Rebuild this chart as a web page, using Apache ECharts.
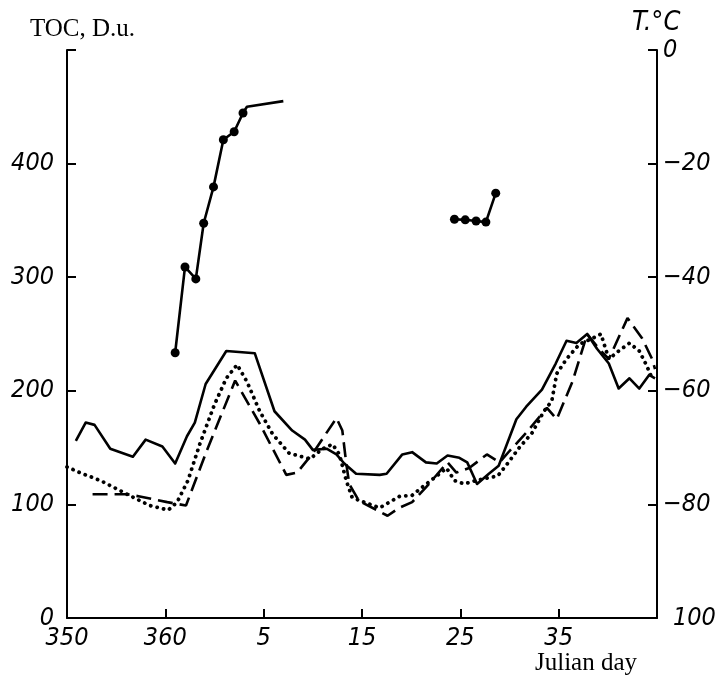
<!DOCTYPE html>
<html>
<head>
<meta charset="utf-8">
<script src="https://cdn.jsdelivr.net/npm/echarts@6/dist/echarts.min.js"></script>
<style>html,body{margin:0;padding:0;background:#fff}#c{width:721px;height:680px}</style>
</head>
<body>
<div id="c"></div>
<script>
// Continuous day index: values above 365 wrap to the next year (370 = day 5)
const xTicks = [350, 360, 370, 380, 390, 400];
const leftTicks = [0, 100, 200, 300, 400];
const rightTicks = [0, -20, -40, -60, -80, -100];

// Solid TOC curve
const solidDays = [350.9, 351.9, 352.8, 354.4, 356.7, 358.0, 359.7, 361.0, 362.2, 363.0, 364.1, 366.2, 369.1, 371.1, 372.9, 374.2, 375.0, 376.4, 377.4, 378.2, 379.4, 381.8, 382.5, 384.1, 385.1, 386.5, 387.6, 388.7, 389.9, 390.7, 391.7, 392.9, 393.9, 395.7, 396.7, 398.3, 399.7, 400.8, 401.8, 402.9, 403.9, 405.1, 406.1, 407.2, 408.2, 409.2, 409.8];
const solidToc = [156, 172, 170, 149, 142, 157, 151, 136, 160, 172, 206, 235, 233, 182, 165, 157, 148, 149, 144, 136, 127, 126, 127, 144, 146, 137, 136, 143, 141, 137, 118, 127, 134, 175, 186, 201, 224, 244, 242, 250, 237, 224, 202, 211, 202, 214, 211];

// Dotted TOC curve
const dottedDays = [350.0, 351.3, 353.4, 356.1, 358.4, 360.3, 361.2, 362.3, 363.5, 365.0, 366.2, 367.3, 368.3, 369.6, 370.9, 372.6, 374.7, 376.0, 377.0, 377.7, 378.4, 379.0, 380.5, 381.8, 382.8, 383.8, 385.1, 386.1, 387.6, 388.6, 389.4, 390.4, 391.6, 392.6, 393.8, 394.8, 396.0, 397.3, 398.5, 399.3, 399.8, 400.8, 402.1, 403.4, 404.3, 405.1, 406.1, 407.2, 408.2, 408.9, 409.5];
const dottedToc = [133, 128, 121, 109, 99, 95, 102, 121, 153, 188, 211, 223, 208, 182, 162, 145, 140, 149, 153, 144, 121, 106, 101, 97, 102, 107, 108, 115, 125, 132, 121, 118, 121, 123, 125, 136, 150, 163, 182, 191, 215, 228, 241, 246, 250, 228, 235, 242, 235, 223, 211];

// Dashed TOC curve
const dashedDays = [352.6, 356.1, 357.4, 360.2, 362.1, 364.2, 367.1, 369.6, 372.3, 373.4, 375.0, 377.4, 378.0, 378.4, 378.7, 379.7, 381.5, 382.6, 383.8, 385.1, 386.5, 388.7, 389.6, 390.9, 392.7, 394.0, 395.0, 396.7, 398.8, 399.8, 401.4, 402.9, 404.1, 405.1, 407.0, 408.5, 409.5, 409.8];
const dashedToc = [109, 109, 107, 102, 99, 147, 209, 171, 126, 128, 145, 176, 165, 136, 118, 103, 95, 90, 97, 102, 115, 137, 128, 132, 144, 137, 147, 163, 185, 175, 208, 250, 237, 228, 264, 246, 228, 219];

// Temperature (right axis) with dots
const tempDays1 = [361.0, 362.0, 363.1, 363.9, 364.9, 365.9, 367.0, 367.9];
const tempVals1 = [-53.3, -38.2, -40.3, -30.5, -24.1, -15.8, -14.4, -11.1];
const tempTailDays = [367.9, 368.3, 372.0];
const tempTailVals = [-11.1, -10.0, -9.0];
const tempDays2 = [389.4, 390.5, 391.6, 392.6, 393.6];
const tempVals2 = [-29.8, -29.9, -30.1, -30.3, -25.2];

const zip = (a, b) => a.map((v, i) => [v, b[i]]);
const numFont = '"Liberation Sans Narrow","DejaVu Sans Condensed","Liberation Sans",sans-serif';
const serif = '"Liberation Serif","Times New Roman",serif';

const chart = echarts.init(document.getElementById('c'), null, {renderer: 'canvas'});
chart.setOption({
  animation: false,
  backgroundColor: '#fff',
  grid: {left: 67, right: 64, top: 50, bottom: 62, containLabel: false, outerBoundsMode: 'none'},
  xAxis: {
    type: 'value', min: 350, max: 410, interval: 10,
    axisLine: {lineStyle: {color: '#000', width: 2}},
    axisTick: {inside: true, length: 9, lineStyle: {color: '#000', width: 2}},
    splitLine: {show: false},
    axisLabel: {
      margin: 8, color: '#000', fontSize: 25, fontStyle: 'italic', fontFamily: numFont,
      formatter: v => (xTicks.indexOf(v) < 0 ? '' : String(v > 365 ? v - 365 : v))
    }
  },
  yAxis: [{
    type: 'value', min: 0, max: 500, interval: 100, position: 'left',
    axisLine: {show: true, lineStyle: {color: '#000', width: 2}},
    axisTick: {show: true, inside: true, length: 9, lineStyle: {color: '#000', width: 2}},
    splitLine: {show: false},
    axisLabel: {
      margin: 13, color: '#000', fontSize: 25, fontStyle: 'italic', fontFamily: numFont,
      formatter: v => (leftTicks.indexOf(v) < 0 ? '' : String(v))
    }
  }, {
    type: 'value', min: -100, max: 0, interval: 20, position: 'right',
    axisLine: {show: true, lineStyle: {color: '#000', width: 2}},
    axisTick: {show: true, inside: true, length: 9, lineStyle: {color: '#000', width: 2}},
    splitLine: {show: false},
    axisLabel: {
      margin: 6, color: '#000', fontSize: 25, fontStyle: 'italic', fontFamily: numFont,
      formatter: v => (rightTicks.indexOf(v) < 0 ? '' : (v === 0 ? '0' : (v === -100 ? '{h|100}' : '\u2212' + (-v)))),
      rich: {h: {fontSize: 25, fontStyle: 'italic', fontFamily: numFont, padding: [0, 0, 0, 10]}}
    }
  }],
  graphic: [
    {type: 'text', left: 30, top: 17, style: {text: 'TOC, D.u.', font: '25px ' + serif, fill: '#000'}},
    {type: 'text', left: 632, top: 9, style: {text: 'T.\u00B0C', font: 'italic 27px ' + numFont, fill: '#000'}},
    {type: 'text', left: 535, top: 651, style: {text: 'Julian day', font: '25px ' + serif, fill: '#000'}}
  ],
  series: [
    {type: 'line', yAxisIndex: 0, data: zip(solidDays, solidToc), symbol: 'none',
     lineStyle: {color: '#000', width: 2.6, join: 'round'}},
    {type: 'line', yAxisIndex: 0, data: zip(dottedDays, dottedToc), symbol: 'none',
     lineStyle: {color: '#000', width: 3.8, type: [0.1, 6.5], cap: 'round', join: 'round'}},
    {type: 'line', yAxisIndex: 0, data: zip(dashedDays, dashedToc), symbol: 'none',
     lineStyle: {color: '#000', width: 2.6, type: [15, 7]}},
    {type: 'line', yAxisIndex: 1, data: zip(tempDays1, tempVals1), symbol: 'circle', symbolSize: 9,
     itemStyle: {color: '#000'}, lineStyle: {color: '#000', width: 2.6}},
    {type: 'line', yAxisIndex: 1, data: zip(tempTailDays, tempTailVals), symbol: 'none',
     lineStyle: {color: '#000', width: 2.6}},
    {type: 'line', yAxisIndex: 1, data: zip(tempDays2, tempVals2), symbol: 'circle', symbolSize: 9,
     itemStyle: {color: '#000'}, lineStyle: {color: '#000', width: 2.6}}
  ]
});
</script>
</body>
</html>
